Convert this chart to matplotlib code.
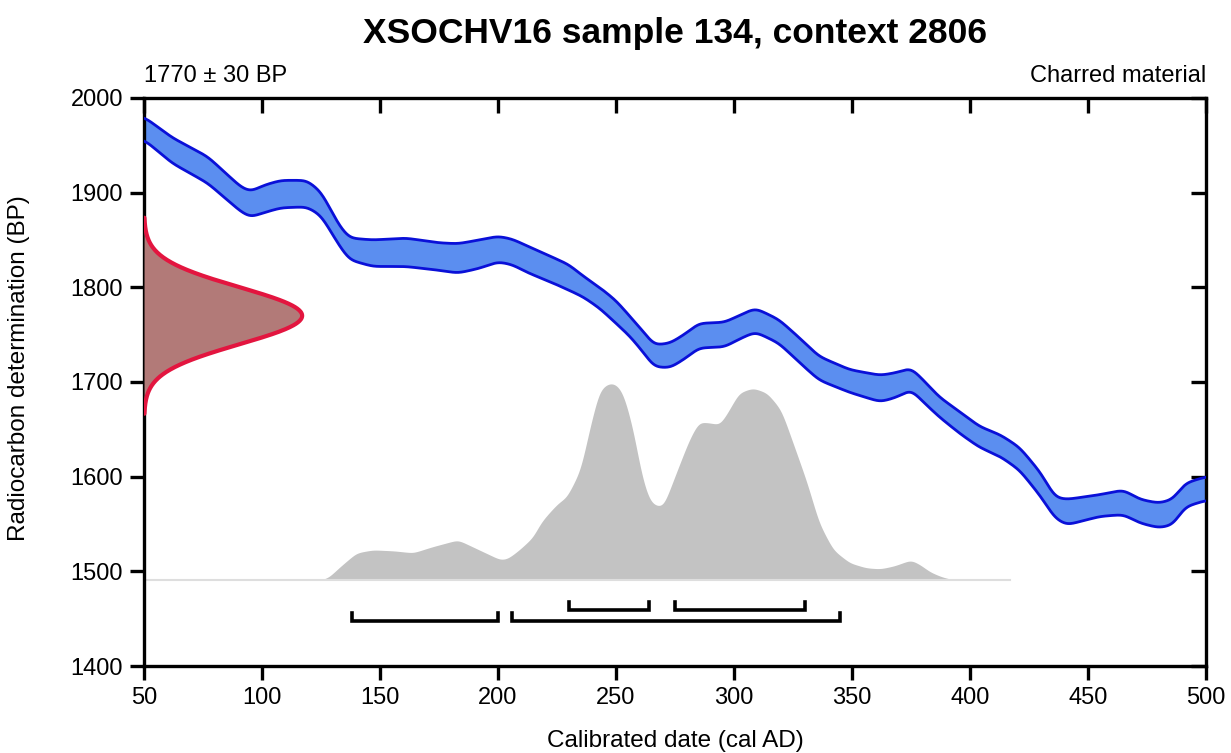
import numpy as np
import matplotlib
matplotlib.use("Agg")
import matplotlib.pyplot as plt

plt.rcParams['font.family'] = ['Liberation Sans', 'DejaVu Sans']

# Calibration curve band (cal AD year, upper BP, lower BP)
curve_year = [50, 62, 77, 91, 95, 101, 108, 119, 125, 133, 137, 147, 161, 175, 183, 192,
              200, 206, 213, 222, 230, 236, 243, 250, 256, 262, 266, 273, 280, 285, 296,
              302, 309, 319, 328, 336, 349, 362, 369, 375, 381, 387, 396, 404, 413, 421,
              430, 436, 441, 455, 465, 472, 480, 486, 491, 500]
curve_upper = [1980, 1958, 1938, 1906, 1901, 1908, 1913, 1913, 1901, 1864, 1852, 1850, 1852,
               1847, 1846, 1850, 1854, 1851, 1843, 1833, 1824, 1812, 1800, 1786, 1769, 1752,
               1739, 1741, 1752, 1762, 1763, 1770, 1778, 1766, 1746, 1727, 1713, 1707, 1710,
               1715, 1700, 1684, 1668, 1653, 1644, 1631, 1604, 1578, 1576, 1581, 1586, 1576,
               1572, 1576, 1593, 1600]
curve_lower = [1956, 1931, 1910, 1880, 1874, 1879, 1884, 1885, 1876, 1843, 1829, 1822, 1822,
               1818, 1815, 1820, 1827, 1824, 1815, 1806, 1797, 1790, 1778, 1762, 1748, 1730,
               1716, 1715, 1726, 1736, 1737, 1745, 1753, 1741, 1720, 1702, 1689, 1679, 1684,
               1692, 1677, 1663, 1645, 1631, 1621, 1607, 1579, 1556, 1549, 1558, 1560, 1551,
               1546, 1549, 1568, 1575]

# Calibrated probability distribution (relative density)
cal_year = [50, 125, 128, 133, 140, 147, 156, 164, 172, 183, 192, 201, 204, 209, 215, 218,
            222, 226, 229, 235, 239, 243, 247, 250, 253, 257, 261, 264, 266, 270, 276, 281,
            285, 290, 294, 298, 302, 308, 314, 320, 325, 331, 336, 342, 349, 356, 362, 368,
            375, 379, 383, 388, 393, 500]
cal_dens = [0, 0, 2, 13, 27, 30, 29, 27, 33, 40, 30, 20, 21, 30, 43, 57,
            68, 78, 82, 110, 153, 190, 197, 196, 187, 153, 103, 80, 75, 73, 110, 140,
            158, 157, 155, 170, 187, 192, 187, 170, 137, 97, 57, 30, 17, 12, 11, 14,
            20, 15, 8, 3, 0, 0]

# Radiocarbon measurement
c14_mean = 1770
c14_err = 30

# Ranges (95.4% lower row, 68.3% upper row)
range95 = [(138, 200), (206, 345)]
range68 = [(230, 264), (275, 330)]

title = "XSOCHV16 sample 134, context 2806"
x_ticks = [50, 100, 150, 200, 250, 300, 350, 400, 450, 500]
y_ticks = [1400, 1500, 1600, 1700, 1800, 1900, 2000]


def smooth(xs, ys, grid, width):
    v = np.interp(grid, xs, ys)
    step = grid[1] - grid[0]
    n = int(round(3 * width / step))
    k = np.arange(-n, n + 1) * step
    w = np.exp(-0.5 * (k / width) ** 2)
    w /= w.sum()
    vp = np.concatenate([np.full(n, v[0]), v, np.full(n, v[-1])])
    return np.convolve(vp, w, mode='valid')


fig = plt.figure(figsize=(12.31, 7.53), dpi=100)
ax = fig.add_axes([0.117, 0.1155, 0.8627, 0.7544])
ax.set_xlim(50, 500)
ax.set_ylim(1400, 2000)

grid = np.linspace(50, 500, 1801)

# calibrated distribution
base = 1491
cd = np.array(cal_dens, float)
cd = cd / cd.max() * 208
df = smooth(cal_year, cd, grid, 1.5)
df[df < 0.3] = 0
ax.fill_between(grid, base, base + df, where=df > 0, color='#c3c3c3', lw=0, zorder=1)
ax.plot([50, 417], [base, base], color='#dedede', lw=1.5, zorder=1)

# calibration curve band
up = smooth(curve_year, curve_upper, grid, 2.0)
lo = smooth(curve_year, curve_lower, grid, 2.0)
ax.fill_between(grid, lo, up, color='#5b8ef0', lw=0, zorder=2)
ax.plot(grid, up, color='#0a10d8', lw=2.0, zorder=3)
ax.plot(grid, lo, color='#0a10d8', lw=2.0, zorder=3)

# radiocarbon date distribution
yy = np.linspace(c14_mean - 3.45 * c14_err, c14_mean + 3.45 * c14_err, 400)
amp = 67
xx = 50 + amp * np.exp(-0.5 * ((yy - c14_mean) / c14_err) ** 2)
ax.fill_betweenx(yy, 50, xx, color='#b27a78', lw=0, zorder=4)
ax.plot(xx, yy, color='#e3153f', lw=3, zorder=5, solid_capstyle='round')

# ranges
def bracket(a, b, y):
    ax.plot([a, a, b, b], [y + 8.5, y, y, y + 8.5], color='black', lw=2.6,
            solid_joinstyle='miter', zorder=6)

for a, b in range95:
    bracket(a, b, 1448)
for a, b in range68:
    bracket(a, b, 1459.5)

# axes styling
for s in ax.spines.values():
    s.set_linewidth(2.4)
ax.set_xticks(x_ticks)
ax.set_yticks(y_ticks)
ax.tick_params(axis='both', direction='out', length=10, width=2.4, labelsize=17, pad=5)

top = ax.secondary_xaxis('top')
top.set_xticks(x_ticks)
top.tick_params(direction='in', length=11, width=2.4, labeltop=False)
top.spines['top'].set_visible(False)
right = ax.secondary_yaxis('right')
right.set_yticks(y_ticks)
right.tick_params(direction='in', length=11, width=2.4, labelright=False)
right.spines['right'].set_visible(False)

ax.set_xlabel("Calibrated date (cal AD)", fontsize=17.5, labelpad=15)
ax.set_ylabel("Radiocarbon determination (BP)", fontsize=17.5, labelpad=23)
ax.yaxis.set_label_coords(-0.107, 0.525)

fig.text(0.548, 0.956, title, ha='center', va='center', fontsize=25.5, fontweight='bold')
ax.text(0.0, 1.02, f"{c14_mean} \u00b1 {c14_err} BP", transform=ax.transAxes,
        ha='left', va='bottom', fontsize=17)
ax.text(1.0, 1.02, "Charred material", transform=ax.transAxes,
        ha='right', va='bottom', fontsize=17)

fig.savefig("out.png", dpi=100)
